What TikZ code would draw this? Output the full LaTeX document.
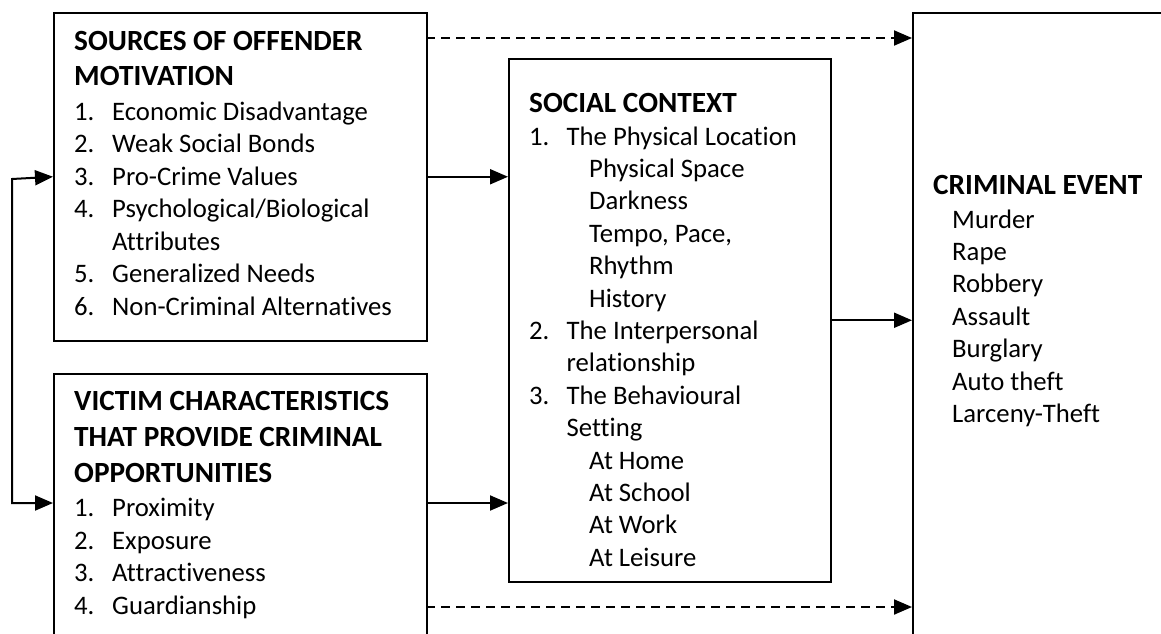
\documentclass[tikz,border=0pt]{standalone}
\usepackage{fontspec}
\setmainfont{Carlito}[Ligatures=NoCommon]
\usetikzlibrary{arrows.meta}
\begin{document}
\begin{tikzpicture}[x=1pt,y=-1pt,
  box/.style={draw=black,line width=1.5pt,rectangle,anchor=north west,inner sep=0pt},
  txt/.style={anchor=base west,inner sep=0pt,font=\fontsize{26.7}{31}\selectfont},
  ttl/.style={txt,font=\fontsize{29.3}{34}\selectfont\bfseries},
  arr/.style={line width=2pt,-{Triangle[length=18pt,width=15pt]}},
  darr/.style={arr,dash pattern=on 9pt off 6pt}]
\useasboundingbox (0,0) rectangle (1161,633);
\clip (0,0) rectangle (1161,633);
\fill[white] (0,0) rectangle (1161,633);
% boxes
\node[box,minimum width=373pt,minimum height=328pt] (src) at (53,12) {};
\node[box,minimum width=373pt,minimum height=262pt] (vic) at (53,373) {};
\node[box,minimum width=322pt,minimum height=523pt] (soc) at (508,58) {};
\node[box,minimum width=300pt,minimum height=628pt] (crim) at (912,12) {};
% sources text
\node[ttl] (s1) at (74,50) {SOURCES OF OFFENDER};
\node[ttl] (s2) at (74,85) {MOTIVATION};
\foreach \n/\t/\y [count=\i] in {1./Economic Disadvantage/120,2./Weak Social Bonds/152.5,3./Pro-Crime Values/185,4./{Psychological/Biological}/217.5,5./Generalized Needs/282.5,6./Non-Criminal Alternatives/315}{
  \node[txt] (sn\i) at (74,\y) {\n};
  \node[txt] (st\i) at (112,\y) {\t};
}
\node[txt] (sa) at (112,250) {Attributes};
% victim text
\node[ttl] (v1) at (74,410) {VICTIM CHARACTERISTICS};
\node[ttl] (v2) at (74,446) {THAT PROVIDE CRIMINAL};
\node[ttl] (v3) at (74,482) {OPPORTUNITIES};
\foreach \n/\t/\y [count=\i] in {1./Proximity/516,2./Exposure/549,3./Attractiveness/581,4./Guardianship/614}{
  \node[txt] (vn\i) at (74,\y) {\n};
  \node[txt] (vt\i) at (112,\y) {\t};
}
% social text
\node[ttl] (c0) at (529,112) {SOCIAL CONTEXT};
\node[txt] (cn1) at (529,145) {1.};
\node[txt] (ct1) at (566.5,145) {The Physical Location};
\foreach \t/\y [count=\i] in {Physical Space/177.4,Darkness/209.8,{Tempo, Pace,}/242.2,Rhythm/274.6,History/307}{
  \node[txt] (ca\i) at (589,\y) {\t};
}
\node[txt] (cn2) at (529,339.4) {2.};
\node[txt] (ct2) at (566.5,339.4) {The Interpersonal};
\node[txt] (ct2b) at (566.5,371.8) {relationship};
\node[txt] (cn3) at (529,404.2) {3.};
\node[txt] (ct3) at (566.5,404.2) {The Behavioural};
\node[txt] (ct3b) at (566.5,436.6) {Setting};
\foreach \t/\y [count=\i] in {At Home/469,At School/501.4,At Work/533.8,At Leisure/566.2}{
  \node[txt] (cb\i) at (589,\y) {\t};
}
% criminal text
\node[ttl] (e0) at (933,194) {CRIMINAL EVENT};
\foreach \t/\y [count=\i] in {Murder/228,Rape/260.4,Robbery/292.8,Assault/325.2,Burglary/357.6,Auto theft/390,Larceny-Theft/422.4}{
  \node[txt] (e\i) at (952,\y) {\t};
}
% connectors
\coordinate (l1) at (12,179);
\coordinate (l2) at (12,503);
\draw[line width=2pt,{Triangle[length=18pt,width=15pt]}-{Triangle[length=18pt,width=15pt]}] (src.west) -- (l1) -- (l2) -- (vic.west |- l2);
\draw[arr] (src.east) -- (soc.west |- src.east);
\draw[arr] (vic.east |- l2) -- (soc.west |- l2);
\draw[arr] (soc.east) -- (crim.west |- soc.east);
\coordinate (d1) at (426,38);
\coordinate (d2) at (426,607);
\draw[darr] (d1) -- (crim.west |- d1);
\draw[darr] (d2) -- (crim.west |- d2);
\end{tikzpicture}
\end{document}
